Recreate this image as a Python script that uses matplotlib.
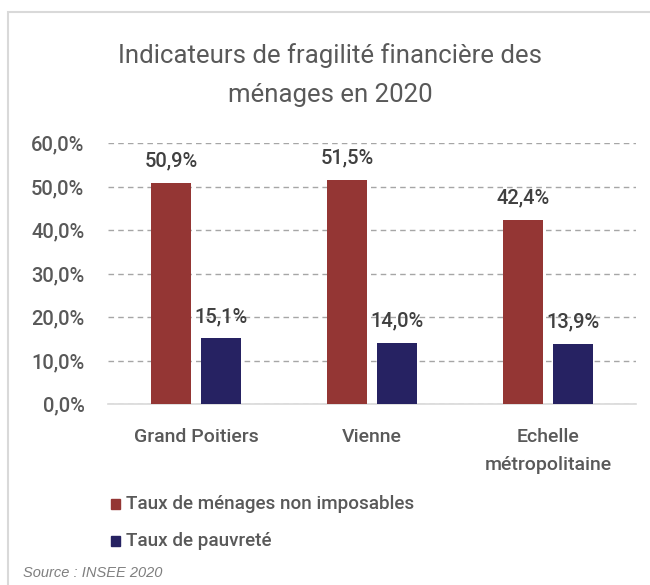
import matplotlib
matplotlib.use("Agg")
import matplotlib.pyplot as plt
from matplotlib.patches import Rectangle
import numpy as np

categories = ["Grand Poitiers", "Vienne", "Echelle\nmétropolitaine"]
non_imposables = [50.9, 51.5, 42.4]
pauvrete = [15.1, 14.0, 13.9]
series_labels = ["Taux de ménages non imposables", "Taux de pauvreté"]
yticks = [0, 10, 20, 30, 40, 50, 60]

plt.rcParams['font.family'] = ['Roboto', 'DejaVu Sans']
text_col = "#595959"

fig = plt.figure(figsize=(6.5, 5.85), dpi=100)
ax = fig.add_axes([108/650, 1 - 404/585, 528/650, (404 - 143)/585])

x = np.arange(len(categories))
w = 0.222
off = 0.142
b1 = ax.bar(x - off, non_imposables, w, color="#943634", zorder=3)
b2 = ax.bar(x + off, pauvrete, w, color="#262262", zorder=3)

for bars in (b1, b2):
    for r in bars:
        v = r.get_height()
        ax.text(r.get_x() + r.get_width() / 2, v + 5.0, f"{v:.1f}%".replace(".", ","),
                ha="center", va="center", fontsize=14.5, color="#404040", weight="medium")

ax.set_xlim(-0.5, 2.5)
ax.set_ylim(0, 60)
ax.set_yticks(yticks)
ax.set_yticklabels([f"{t:.1f}%".replace(".", ",") for t in yticks], fontsize=14.5,
                   color=text_col, weight="medium")
ax.set_xticks(x)
ax.set_xticklabels(categories, fontsize=14, color=text_col, linespacing=1.75, weight="medium")
ax.tick_params(length=0, pad=17)
ax.tick_params(axis="x", pad=17)
ax.yaxis.grid(True, linestyle=(0, (4, 3)), color="#a6a6a6", linewidth=1, zorder=0)
for s in ["top", "right", "left"]:
    ax.spines[s].set_visible(False)
ax.spines["bottom"].set_color("#d9d9d9")
ax.spines["bottom"].set_linewidth(1.2)

fig.text(330/650, 1 - 75/585, "Indicateurs de fragilité financière des\nménages en 2020",
         ha="center", va="center", fontsize=18.5, color=text_col, linespacing=1.75)

# legend
leg_items = [("#943634", series_labels[0], 504), ("#262262", series_labels[1], 541)]
for col, lab, yp in leg_items:
    fig.patches.append(Rectangle((111/650, 1 - (yp + 5)/585), 9/650, 10/585,
                                 transform=fig.transFigure, color=col))
    fig.text(126/650, 1 - yp/585, lab, ha="left", va="center", fontsize=13.6,
             color=text_col, weight="medium")

fig.text(23/650, 1 - 573/585, "Source : INSEE 2020", ha="left", va="center",
         fontsize=10.5, color="#7f7f7f", style="italic", family="Liberation Sans")

# outer frame
fig.patches.append(Rectangle((8/650, -0.05), 1.2, 1 - 12/585 + 0.05, transform=fig.transFigure,
                             fill=False, edgecolor="#d9d9d9", linewidth=1.5))

fig.savefig("out.png", dpi=100)
